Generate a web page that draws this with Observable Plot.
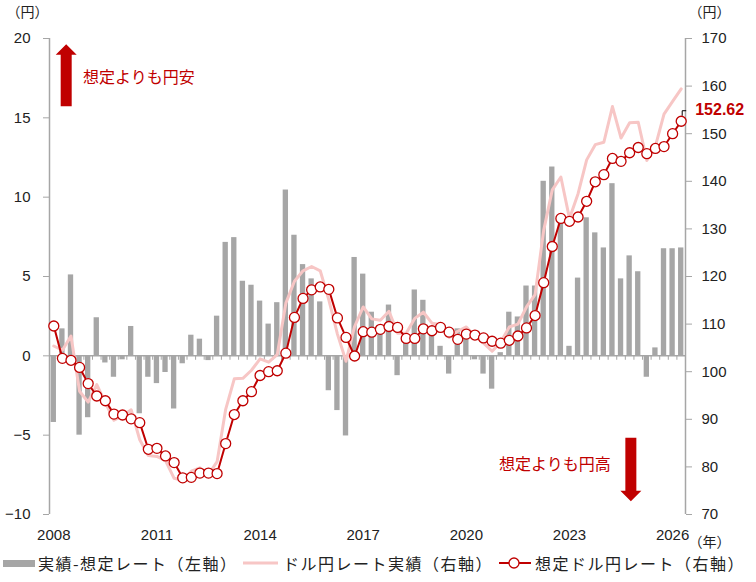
<!DOCTYPE html>
<html><head><meta charset="utf-8">
<script src="https://cdn.jsdelivr.net/npm/d3@7"></script>
<script src="https://cdn.jsdelivr.net/npm/@observablehq/plot@0.6"></script>
<style>
html,body{margin:0;padding:0;background:#fff;}
body{width:756px;height:582px;overflow:hidden;font-family:"Liberation Sans",Arial,sans-serif;}
#legend{position:relative;width:756px;height:30px;font-family:"Noto Sans CJK JP",sans-serif;font-size:16px;letter-spacing:1.5px;color:#222;}
#legend .t{position:absolute;top:0;line-height:22px;white-space:nowrap;}
#legend .s{position:absolute;}
</style></head><body>
<div id="chart"></div>
<div id="legend"></div>
<script>
// Year tick labels (every 12 quarters starting 2008Q1)
const yearLabels = ["2008", "2011", "2014", "2017", "2020", "2023", "2026"];
// Actual minus assumed rate (yen, left axis)
const diff = [-4.2, 1.7, 5.1, -5.0, -3.9, 2.4, -0.45, -1.35, -0.25, 1.85,
  -3.65, -1.35, -1.75, -1.05, -3.35, -0.5, 1.3, 1.05, -0.3, 2.5,
  7.15, 7.45, 4.7, 4.45, 3.45, 2.0, 3.35, 10.45, 7.6, 5.75,
  4.85, 3.4, -2.2, -3.45, -5.05, 6.2, 5.15, 2.75, 1.9, 3.2,
  -1.25, 1.1, 4.15, 3.5, 1.6, 0.6, -1.15, 1.7, 1.45, -0.25,
  -1.15, -2.1, 0.2, 2.75, 2.45, 4.4, 4.4, 11.0, 11.9, 8.7,
  0.6, 4.9, 8.7, 7.75, 6.8, 10.85, 4.85, 6.3, 5.3, -1.35,
  0.5, 6.75, 6.75, 6.8];
// Actual USD/JPY (right axis)
const actual = [105.4, 104.5, 107.5, 95.9, 93.6, 97.3, 93.5, 89.8, 90.7, 92.0,
  85.7, 82.4, 82.2, 81.3, 77.6, 77.2, 79.1, 79.8, 78.4, 81.1,
  92.1, 98.5, 98.6, 100.3, 102.7, 102.0, 103.6, 114.4, 119.0, 121.2,
  122.1, 121.2, 115.1, 107.9, 102.2, 109.5, 113.6, 111.1, 110.8, 112.7,
  108.1, 108.1, 111.2, 112.5, 110.2, 109.9, 107.2, 108.5, 109.4, 107.5,
  106.0, 104.3, 106.2, 109.4, 110.0, 113.6, 116.2, 129.7, 138.2, 140.9,
  132.2, 137.4, 144.5, 147.7, 148.2, 155.7, 149.1, 152.3, 152.4, 144.4,
  147.4, 154.1, 156.8, 159.4];
// Assumed USD/JPY (right axis)
const assumed = [109.6, 102.8, 102.4, 100.9, 97.5, 94.9, 93.9, 91.1, 90.9, 90.1,
  89.3, 83.7, 83.9, 82.3, 80.9, 77.7, 77.8, 78.7, 78.7, 78.6,
  84.9, 91.0, 93.9, 95.8, 99.2, 100.0, 100.2, 103.9, 111.4, 115.4,
  117.2, 117.8, 117.3, 111.3, 107.2, 103.3, 108.4, 108.3, 108.9, 109.5,
  109.3, 107.0, 107.0, 109.0, 108.6, 109.3, 108.3, 106.8, 107.9, 107.7,
  107.1, 106.4, 106.0, 106.6, 107.5, 109.2, 111.8, 118.7, 126.3, 132.2,
  131.6, 132.5, 135.8, 139.9, 141.4, 144.8, 144.2, 146.0, 147.1, 145.8,
  146.9, 147.3, 150.0, 152.62];
const leftTicks = [-10, -5, 0, 5, 10, 15, 20];
const rightTicks = [70, 80, 90, 100, 110, 120, 130, 140, 150, 160, 170];
const noteUp = [{t: "想定よりも円安", i: 3.4, v: 17.5}];
const noteDown = [{t: "想定よりも円高", i: 64.8, v: -6.9}];
const arrows = [{i: 1.5, from: 15.7, to: 19.6}, {i: 67.2, from: -5.2, to: -9.2}];

const RED = "#c00000", GREY = "#a6a6a6", PINK = "#f7c6c5", AXIS = "#a6a6a6", INK = "#222";
const toL = r => (r - 70) * 0.3 - 10;       // right axis -> left axis units
const fromL = v => (v + 10) / 0.3 + 70;
const n = assumed.length;
const rows = d3.range(n).map(i => ({i, diff: diff[i], actual: actual[i], assumed: assumed[i]}));
const last = rows[n - 1];
const bounds = d3.range(n + 1).map(k => k - 0.5);

const arrowMark = (index, scales) => {
  const g = d3.create("svg:g");
  for (const a of arrows) {
    const x = scales.x(a.i), y0 = scales.y(a.from), y1 = scales.y(a.to);
    const dir = Math.sign(y1 - y0), sw = 5.5, hw = 10.5, hl = 10.5;
    const yh = y1 - dir * hl;
    g.append("path")
      .attr("d", `M${x - sw},${y0}L${x - sw},${yh}L${x - hw},${yh}L${x},${y1}L${x + hw},${yh}L${x + sw},${yh}L${x + sw},${y0}Z`)
      .attr("fill", RED);
  }
  const px = scales.x(last.i), py = scales.y(toL(last.assumed));
  g.append("path").attr("d", `M${px + 1.5},${py - 5}V${py - 10}H${px + 5.5}`)
    .attr("fill", "none").attr("stroke", "#000").attr("stroke-width", 1);
  return g.node();
};

const tickText = {fill: INK, fontSize: 15, letterSpacing: 1, label: null};
const cjk = {fill: INK, fontSize: 14, fontFamily: "Noto Sans CJK JP"};

const chart = Plot.plot({
  width: 756, height: 552,
  marginTop: 38, marginBottom: 38, marginLeft: 49, marginRight: 71,
  style: {fontFamily: "Liberation Sans, Arial, sans-serif", fontSize: "15px", background: "#fff", color: INK},
  x: {type: "linear", domain: [-0.5, n - 0.5]},
  y: {domain: [-10, 20]},
  marks: [
    Plot.rect(rows, {x1: d => d.i - 0.31, x2: d => d.i + 0.31, y1: 0, y2: "diff", fill: GREY}),
    Plot.ruleY([0], {stroke: AXIS, strokeWidth: 1.5}),
    Plot.ruleX(bounds, {y1: 0, y2: -0.28, stroke: AXIS, strokeWidth: 1}),
    Plot.ruleX([-0.5, n - 0.5], {stroke: AXIS, strokeWidth: 1.5}),
    Plot.axisY(leftTicks, {anchor: "left", tickSize: 6, tickPadding: 13, stroke: AXIS, ...tickText}),
    Plot.axisY(rightTicks.map(toL), {anchor: "right", tickSize: 6, tickPadding: 10, tickFormat: v => String(Math.round(fromL(v))), stroke: AXIS, ...tickText}),
    Plot.axisX(yearLabels.map((y, k) => k * 12), {anchor: "bottom", tickSize: 0, tickPadding: 15, tickFormat: v => yearLabels[Math.round(v / 12)], ...tickText}),
    Plot.line(rows, {x: "i", y: d => toL(d.actual), stroke: PINK, strokeWidth: 3}),
    Plot.line(rows, {x: "i", y: d => toL(d.assumed), stroke: RED, strokeWidth: 2}),
    Plot.dot(rows, {x: "i", y: d => toL(d.assumed), r: 5, fill: "white", stroke: RED, strokeWidth: 1.3}),
    Plot.text([last], {x: "i", y: d => toL(d.assumed), text: d => d.assumed.toFixed(2), dx: 14, dy: -11, textAnchor: "start", fill: RED, fontWeight: "bold", fontSize: 16}),
    Plot.text(noteUp, {x: "i", y: "v", text: "t", textAnchor: "start", fill: RED, fontSize: 16, fontFamily: "Noto Sans CJK JP", letterSpacing: 0.9}),
    Plot.text(noteDown, {x: "i", y: "v", text: "t", textAnchor: "end", fill: RED, fontSize: 16, fontFamily: "Noto Sans CJK JP", letterSpacing: 0.9}),
    Plot.text([{x: -0.5, y: 20}], {x: "x", y: "y", text: () => "（円）", dx: -22, dy: -26, ...cjk}),
    Plot.text([{x: n - 0.5, y: 20}], {x: "x", y: "y", text: () => "（円）", dx: 24, dy: -26, ...cjk}),
    Plot.text([{x: n - 0.5, y: -10}], {x: "x", y: "y", text: () => "（年）", dx: 24, dy: 28, ...cjk}),
    arrowMark
  ]
});
document.getElementById("chart").appendChild(chart);

// Legend below the SVG
const legendItems = [
  {label: "実績-想定レート（左軸）", kind: "bar", sx: 3, tx: 38},
  {label: "ドル円レート実績（右軸）", kind: "pink", sx: 243, tx: 283},
  {label: "想定ドル円レート（右軸）", kind: "dot", sx: 499, tx: 535}
];
const lg = d3.select("#legend");
for (const it of legendItems) {
  const s = lg.append("svg").attr("class", "s").style("left", it.sx + "px").style("top", "0px")
    .attr("width", 36).attr("height", 22);
  if (it.kind === "bar") s.append("rect").attr("x", 0).attr("y", 8).attr("width", 32).attr("height", 7).attr("fill", GREY);
  if (it.kind === "pink") s.append("line").attr("x1", 0).attr("x2", 35).attr("y1", 11).attr("y2", 11).attr("stroke", PINK).attr("stroke-width", 3);
  if (it.kind === "dot") {
    s.append("line").attr("x1", 0).attr("x2", 32).attr("y1", 11).attr("y2", 11).attr("stroke", RED).attr("stroke-width", 2);
    s.append("circle").attr("cx", 15).attr("cy", 11).attr("r", 5).attr("fill", "white").attr("stroke", RED).attr("stroke-width", 1.3);
  }
  lg.append("div").attr("class", "t").style("left", it.tx + "px").text(it.label);
}
</script>
</body></html>
